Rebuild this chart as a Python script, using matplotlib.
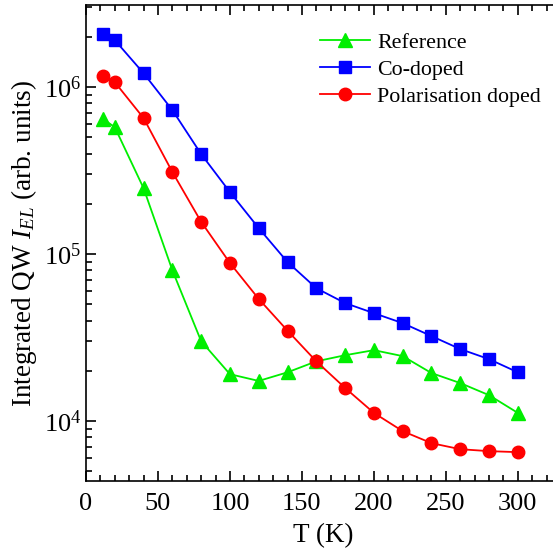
import numpy as np
import matplotlib
matplotlib.use("Agg")
import matplotlib.pyplot as plt
from matplotlib.ticker import MultipleLocator, LogLocator, NullFormatter

plt.rcParams["font.family"] = ["Liberation Serif"]
plt.rcParams["mathtext.fontset"] = "custom"
plt.rcParams["mathtext.rm"] = "Liberation Serif"
plt.rcParams["mathtext.it"] = "Liberation Serif:italic"

temps = [12, 20, 40, 60, 80, 100, 120, 140, 160, 180, 200, 220, 240, 260, 280, 300]
reference = [6.43e5, 5.75e5, 2.48e5, 8.0e4, 3.01e4, 1.91e4, 1.74e4, 1.96e4,
             2.28e4, 2.48e4, 2.66e4, 2.45e4, 1.94e4, 1.69e4, 1.43e4, 1.12e4]
co_doped = [2.08e6, 1.91e6, 1.21e6, 7.28e5, 3.97e5, 2.35e5, 1.43e5, 8.96e4,
            6.25e4, 5.09e4, 4.43e4, 3.86e4, 3.23e4, 2.70e4, 2.35e4, 1.96e4]
pol_doped = [1.16e6, 1.07e6, 6.52e5, 3.10e5, 1.56e5, 8.84e4, 5.39e4, 3.48e4,
             2.28e4, 1.58e4, 1.12e4, 8.71e3, 7.38e3, 6.79e3, 6.61e3, 6.52e3]

fig = plt.figure(figsize=(5.53, 5.52), dpi=100)
ax = fig.add_axes([86 / 553, 71 / 552, 475 / 553, 476 / 552])

ax.plot(temps, reference, color="#00ee00", marker="^", ms=9.5, lw=1.3, label="Reference")
ax.plot(temps, co_doped, color="#0000ff", marker="s", ms=8, lw=1.3, label="Co-doped")
ax.plot(temps, pol_doped, color="#ff0000", marker="o", ms=9, lw=1.3, label="Polarisation doped")

ax.set_yscale("log")
ax.set_xlim(0, 330)
ax.set_ylim(4.38e3, 3.1e6)
ax.xaxis.set_major_locator(MultipleLocator(50))
ax.xaxis.set_minor_locator(MultipleLocator(10))
ax.yaxis.set_major_locator(LogLocator(base=10))
ax.yaxis.set_minor_locator(LogLocator(base=10, subs=np.arange(2, 10)))
ax.yaxis.set_minor_formatter(NullFormatter())
ax.tick_params(which="both", direction="in", top=True, right=False, labelsize=19, width=1.2)
ax.tick_params(which="major", length=7)
ax.tick_params(which="minor", length=4)
ax.tick_params(axis="x", which="major", pad=8.5)
for s in ax.spines.values():
    s.set_linewidth(1.2)

ax.set_xlabel("T (K)", fontsize=19.5, labelpad=6)
ax.set_ylabel(r"Integrated QW $I_{EL}$ (arb. units)", fontsize=19.5, labelpad=3)

ax.legend(loc="upper left", bbox_to_anchor=(0.474, 0.96), frameon=False, fontsize=15.8,
          handlelength=2.3, handletextpad=0.3, labelspacing=0.3, borderaxespad=0)

fig.savefig("out.png", dpi=100)
